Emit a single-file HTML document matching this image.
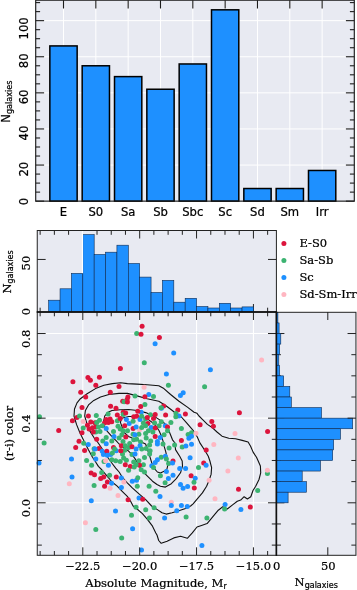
<!DOCTYPE html>
<html><head><meta charset="utf-8"><title>Galaxy morphology figure</title>
<style>html,body{margin:0;padding:0;background:#fff}svg{display:block}text{stroke:#000;stroke-width:.22px}</style></head>
<body>
<svg width="357" height="590" viewBox="0 0 357 590">
<rect width="357" height="590" fill="#fff"/>
<rect x="35.7" y="0.2" width="318.6" height="200.95" fill="#e8eaf2" />
<line x1="35.7" y1="165.05" x2="354.3" y2="165.05" stroke="#fff" stroke-width="1" />
<line x1="35.7" y1="128.95" x2="354.3" y2="128.95" stroke="#fff" stroke-width="1" />
<line x1="35.7" y1="92.85" x2="354.3" y2="92.85" stroke="#fff" stroke-width="1" />
<line x1="35.7" y1="56.75" x2="354.3" y2="56.75" stroke="#fff" stroke-width="1" />
<line x1="35.7" y1="20.65" x2="354.3" y2="20.65" stroke="#fff" stroke-width="1" />
<line x1="63.5" y1="0.2" x2="63.5" y2="201.15" stroke="#fff" stroke-width="1" />
<line x1="95.83" y1="0.2" x2="95.83" y2="201.15" stroke="#fff" stroke-width="1" />
<line x1="128.16" y1="0.2" x2="128.16" y2="201.15" stroke="#fff" stroke-width="1" />
<line x1="160.49" y1="0.2" x2="160.49" y2="201.15" stroke="#fff" stroke-width="1" />
<line x1="192.82" y1="0.2" x2="192.82" y2="201.15" stroke="#fff" stroke-width="1" />
<line x1="225.15" y1="0.2" x2="225.15" y2="201.15" stroke="#fff" stroke-width="1" />
<line x1="257.48" y1="0.2" x2="257.48" y2="201.15" stroke="#fff" stroke-width="1" />
<line x1="289.81" y1="0.2" x2="289.81" y2="201.15" stroke="#fff" stroke-width="1" />
<line x1="322.14" y1="0.2" x2="322.14" y2="201.15" stroke="#fff" stroke-width="1" />
<rect x="49.85" y="45.92" width="27.3" height="155.23" fill="#1e90ff" stroke="#000" stroke-width="1.5" />
<rect x="82.18" y="65.78" width="27.3" height="135.38" fill="#1e90ff" stroke="#000" stroke-width="1.5" />
<rect x="114.51" y="76.61" width="27.3" height="124.55" fill="#1e90ff" stroke="#000" stroke-width="1.5" />
<rect x="146.84" y="89.24" width="27.3" height="111.91" fill="#1e90ff" stroke="#000" stroke-width="1.5" />
<rect x="179.17" y="63.97" width="27.3" height="137.18" fill="#1e90ff" stroke="#000" stroke-width="1.5" />
<rect x="211.5" y="9.82" width="27.3" height="191.33" fill="#1e90ff" stroke="#000" stroke-width="1.5" />
<rect x="243.83" y="188.52" width="27.3" height="12.63" fill="#1e90ff" stroke="#000" stroke-width="1.5" />
<rect x="276.16" y="188.52" width="27.3" height="12.63" fill="#1e90ff" stroke="#000" stroke-width="1.5" />
<rect x="308.49" y="170.47" width="27.3" height="30.69" fill="#1e90ff" stroke="#000" stroke-width="1.5" />
<line x1="63.5" y1="0.2" x2="63.5" y2="8.5" stroke="#1c1c1c" stroke-width="1.1" />
<line x1="95.83" y1="0.2" x2="95.83" y2="8.5" stroke="#1c1c1c" stroke-width="1.1" />
<line x1="128.16" y1="0.2" x2="128.16" y2="8.5" stroke="#1c1c1c" stroke-width="1.1" />
<line x1="160.49" y1="0.2" x2="160.49" y2="8.5" stroke="#1c1c1c" stroke-width="1.1" />
<line x1="192.82" y1="0.2" x2="192.82" y2="8.5" stroke="#1c1c1c" stroke-width="1.1" />
<line x1="225.15" y1="0.2" x2="225.15" y2="8.5" stroke="#1c1c1c" stroke-width="1.1" />
<line x1="257.48" y1="0.2" x2="257.48" y2="8.5" stroke="#1c1c1c" stroke-width="1.1" />
<line x1="289.81" y1="0.2" x2="289.81" y2="8.5" stroke="#1c1c1c" stroke-width="1.1" />
<line x1="322.14" y1="0.2" x2="322.14" y2="8.5" stroke="#1c1c1c" stroke-width="1.1" />
<line x1="35.7" y1="201.15" x2="44.1" y2="201.15" stroke="#1c1c1c" stroke-width="1.1" />
<line x1="354.3" y1="201.15" x2="345.9" y2="201.15" stroke="#1c1c1c" stroke-width="1.1" />
<line x1="35.7" y1="192.12" x2="40.1" y2="192.12" stroke="#1c1c1c" stroke-width="1.1" />
<line x1="354.3" y1="192.12" x2="349.9" y2="192.12" stroke="#1c1c1c" stroke-width="1.1" />
<line x1="35.7" y1="183.1" x2="40.1" y2="183.1" stroke="#1c1c1c" stroke-width="1.1" />
<line x1="354.3" y1="183.1" x2="349.9" y2="183.1" stroke="#1c1c1c" stroke-width="1.1" />
<line x1="35.7" y1="174.08" x2="40.1" y2="174.08" stroke="#1c1c1c" stroke-width="1.1" />
<line x1="354.3" y1="174.08" x2="349.9" y2="174.08" stroke="#1c1c1c" stroke-width="1.1" />
<line x1="35.7" y1="165.05" x2="44.1" y2="165.05" stroke="#1c1c1c" stroke-width="1.1" />
<line x1="354.3" y1="165.05" x2="345.9" y2="165.05" stroke="#1c1c1c" stroke-width="1.1" />
<line x1="35.7" y1="156.03" x2="40.1" y2="156.03" stroke="#1c1c1c" stroke-width="1.1" />
<line x1="354.3" y1="156.03" x2="349.9" y2="156.03" stroke="#1c1c1c" stroke-width="1.1" />
<line x1="35.7" y1="147" x2="40.1" y2="147" stroke="#1c1c1c" stroke-width="1.1" />
<line x1="354.3" y1="147" x2="349.9" y2="147" stroke="#1c1c1c" stroke-width="1.1" />
<line x1="35.7" y1="137.98" x2="40.1" y2="137.98" stroke="#1c1c1c" stroke-width="1.1" />
<line x1="354.3" y1="137.98" x2="349.9" y2="137.98" stroke="#1c1c1c" stroke-width="1.1" />
<line x1="35.7" y1="128.95" x2="44.1" y2="128.95" stroke="#1c1c1c" stroke-width="1.1" />
<line x1="354.3" y1="128.95" x2="345.9" y2="128.95" stroke="#1c1c1c" stroke-width="1.1" />
<line x1="35.7" y1="119.93" x2="40.1" y2="119.93" stroke="#1c1c1c" stroke-width="1.1" />
<line x1="354.3" y1="119.93" x2="349.9" y2="119.93" stroke="#1c1c1c" stroke-width="1.1" />
<line x1="35.7" y1="110.9" x2="40.1" y2="110.9" stroke="#1c1c1c" stroke-width="1.1" />
<line x1="354.3" y1="110.9" x2="349.9" y2="110.9" stroke="#1c1c1c" stroke-width="1.1" />
<line x1="35.7" y1="101.88" x2="40.1" y2="101.88" stroke="#1c1c1c" stroke-width="1.1" />
<line x1="354.3" y1="101.88" x2="349.9" y2="101.88" stroke="#1c1c1c" stroke-width="1.1" />
<line x1="35.7" y1="92.85" x2="44.1" y2="92.85" stroke="#1c1c1c" stroke-width="1.1" />
<line x1="354.3" y1="92.85" x2="345.9" y2="92.85" stroke="#1c1c1c" stroke-width="1.1" />
<line x1="35.7" y1="83.83" x2="40.1" y2="83.83" stroke="#1c1c1c" stroke-width="1.1" />
<line x1="354.3" y1="83.83" x2="349.9" y2="83.83" stroke="#1c1c1c" stroke-width="1.1" />
<line x1="35.7" y1="74.8" x2="40.1" y2="74.8" stroke="#1c1c1c" stroke-width="1.1" />
<line x1="354.3" y1="74.8" x2="349.9" y2="74.8" stroke="#1c1c1c" stroke-width="1.1" />
<line x1="35.7" y1="65.78" x2="40.1" y2="65.78" stroke="#1c1c1c" stroke-width="1.1" />
<line x1="354.3" y1="65.78" x2="349.9" y2="65.78" stroke="#1c1c1c" stroke-width="1.1" />
<line x1="35.7" y1="56.75" x2="44.1" y2="56.75" stroke="#1c1c1c" stroke-width="1.1" />
<line x1="354.3" y1="56.75" x2="345.9" y2="56.75" stroke="#1c1c1c" stroke-width="1.1" />
<line x1="35.7" y1="47.73" x2="40.1" y2="47.73" stroke="#1c1c1c" stroke-width="1.1" />
<line x1="354.3" y1="47.73" x2="349.9" y2="47.73" stroke="#1c1c1c" stroke-width="1.1" />
<line x1="35.7" y1="38.7" x2="40.1" y2="38.7" stroke="#1c1c1c" stroke-width="1.1" />
<line x1="354.3" y1="38.7" x2="349.9" y2="38.7" stroke="#1c1c1c" stroke-width="1.1" />
<line x1="35.7" y1="29.68" x2="40.1" y2="29.68" stroke="#1c1c1c" stroke-width="1.1" />
<line x1="354.3" y1="29.68" x2="349.9" y2="29.68" stroke="#1c1c1c" stroke-width="1.1" />
<line x1="35.7" y1="20.65" x2="44.1" y2="20.65" stroke="#1c1c1c" stroke-width="1.1" />
<line x1="354.3" y1="20.65" x2="345.9" y2="20.65" stroke="#1c1c1c" stroke-width="1.1" />
<line x1="35.7" y1="11.62" x2="40.1" y2="11.62" stroke="#1c1c1c" stroke-width="1.1" />
<line x1="354.3" y1="11.62" x2="349.9" y2="11.62" stroke="#1c1c1c" stroke-width="1.1" />
<line x1="35.7" y1="2.6" x2="40.1" y2="2.6" stroke="#1c1c1c" stroke-width="1.1" />
<line x1="354.3" y1="2.6" x2="349.9" y2="2.6" stroke="#1c1c1c" stroke-width="1.1" />
<rect x="35.7" y="0.2" width="318.6" height="200.95" fill="none" stroke="#1c1c1c" stroke-width="1.15" />
<text x="63.5" y="215.5" font-family='"DejaVu Sans","Liberation Sans",sans-serif' font-size="11.6" text-anchor="middle" fill="#000">E</text>
<text x="95.83" y="215.5" font-family='"DejaVu Sans","Liberation Sans",sans-serif' font-size="11.6" text-anchor="middle" fill="#000">S0</text>
<text x="128.16" y="215.5" font-family='"DejaVu Sans","Liberation Sans",sans-serif' font-size="11.6" text-anchor="middle" fill="#000">Sa</text>
<text x="160.49" y="215.5" font-family='"DejaVu Sans","Liberation Sans",sans-serif' font-size="11.6" text-anchor="middle" fill="#000">Sb</text>
<text x="192.82" y="215.5" font-family='"DejaVu Sans","Liberation Sans",sans-serif' font-size="11.6" text-anchor="middle" fill="#000">Sbc</text>
<text x="225.15" y="215.5" font-family='"DejaVu Sans","Liberation Sans",sans-serif' font-size="11.6" text-anchor="middle" fill="#000">Sc</text>
<text x="257.48" y="215.5" font-family='"DejaVu Sans","Liberation Sans",sans-serif' font-size="11.6" text-anchor="middle" fill="#000">Sd</text>
<text x="289.81" y="215.5" font-family='"DejaVu Sans","Liberation Sans",sans-serif' font-size="11.6" text-anchor="middle" fill="#000">Sm</text>
<text x="322.14" y="215.5" font-family='"DejaVu Sans","Liberation Sans",sans-serif' font-size="11.6" text-anchor="middle" fill="#000">Irr</text>
<text transform="translate(27.9 197.85) rotate(-90)" font-family='"DejaVu Sans","Liberation Sans",sans-serif' font-size="11.6" text-anchor="end" fill="#000">0</text>
<text transform="translate(27.9 161.75) rotate(-90)" font-family='"DejaVu Sans","Liberation Sans",sans-serif' font-size="11.6" text-anchor="end" fill="#000">20</text>
<text transform="translate(27.9 125.65) rotate(-90)" font-family='"DejaVu Sans","Liberation Sans",sans-serif' font-size="11.6" text-anchor="end" fill="#000">40</text>
<text transform="translate(27.9 89.55) rotate(-90)" font-family='"DejaVu Sans","Liberation Sans",sans-serif' font-size="11.6" text-anchor="end" fill="#000">60</text>
<text transform="translate(27.9 53.45) rotate(-90)" font-family='"DejaVu Sans","Liberation Sans",sans-serif' font-size="11.6" text-anchor="end" fill="#000">80</text>
<text transform="translate(27.9 17.35) rotate(-90)" font-family='"DejaVu Sans","Liberation Sans",sans-serif' font-size="11.6" text-anchor="end" fill="#000">100</text>
<text transform="translate(10 122.8) rotate(-90)" font-family='"DejaVu Sans","Liberation Sans",sans-serif' font-size="11.6" fill="#000">N<tspan font-size="8.1" dy="2.3">galaxies</tspan></text>
<rect x="37.25" y="230.5" width="239.15" height="81.5" fill="#e8eaf2" />
<line x1="253.43" y1="304" x2="253.43" y2="312" stroke="#222" stroke-width="1.0" />
<rect x="48.67" y="300.2" width="11.38" height="11.8" fill="#1e90ff" stroke="#0d2a52" stroke-width="0.6" />
<rect x="60.05" y="288.8" width="11.38" height="23.2" fill="#1e90ff" stroke="#0d2a52" stroke-width="0.6" />
<rect x="71.42" y="273.4" width="11.38" height="38.6" fill="#1e90ff" stroke="#0d2a52" stroke-width="0.6" />
<rect x="82.8" y="234.6" width="11.38" height="77.4" fill="#1e90ff" stroke="#0d2a52" stroke-width="0.6" />
<rect x="94.17" y="254.5" width="11.38" height="57.5" fill="#1e90ff" stroke="#0d2a52" stroke-width="0.6" />
<rect x="105.55" y="252.2" width="11.38" height="59.8" fill="#1e90ff" stroke="#0d2a52" stroke-width="0.6" />
<rect x="116.92" y="245.2" width="11.38" height="66.8" fill="#1e90ff" stroke="#0d2a52" stroke-width="0.6" />
<rect x="128.3" y="263.5" width="11.38" height="48.5" fill="#1e90ff" stroke="#0d2a52" stroke-width="0.6" />
<rect x="139.68" y="277.1" width="11.38" height="34.9" fill="#1e90ff" stroke="#0d2a52" stroke-width="0.6" />
<rect x="151.05" y="292.5" width="11.38" height="19.5" fill="#1e90ff" stroke="#0d2a52" stroke-width="0.6" />
<rect x="162.43" y="280.4" width="11.38" height="31.6" fill="#1e90ff" stroke="#0d2a52" stroke-width="0.6" />
<rect x="173.8" y="302.2" width="11.38" height="9.8" fill="#1e90ff" stroke="#0d2a52" stroke-width="0.6" />
<rect x="185.18" y="298.3" width="11.38" height="13.7" fill="#1e90ff" stroke="#0d2a52" stroke-width="0.6" />
<rect x="196.55" y="306.5" width="11.38" height="5.5" fill="#1e90ff" stroke="#0d2a52" stroke-width="0.6" />
<rect x="207.93" y="308" width="11.38" height="4" fill="#1e90ff" stroke="#0d2a52" stroke-width="0.6" />
<rect x="219.3" y="303.3" width="11.38" height="8.7" fill="#1e90ff" stroke="#0d2a52" stroke-width="0.6" />
<rect x="230.68" y="308" width="11.38" height="4" fill="#1e90ff" stroke="#0d2a52" stroke-width="0.6" />
<rect x="242.05" y="306.9" width="11.38" height="5.1" fill="#1e90ff" stroke="#0d2a52" stroke-width="0.6" />
<line x1="82.45" y1="230.5" x2="82.45" y2="273.2" stroke="#fff" stroke-width="1.2" />
<rect x="37.25" y="312" width="239.15" height="243.3" fill="#e8eaf2" />
<line x1="82.8" y1="312" x2="82.8" y2="555.3" stroke="#fff" stroke-width="1.1" />
<line x1="139.68" y1="312" x2="139.68" y2="555.3" stroke="#fff" stroke-width="1.1" />
<line x1="196.55" y1="312" x2="196.55" y2="555.3" stroke="#fff" stroke-width="1.1" />
<line x1="253.43" y1="312" x2="253.43" y2="555.3" stroke="#fff" stroke-width="1.1" />
<line x1="37.25" y1="333.52" x2="276.4" y2="333.52" stroke="#fff" stroke-width="1.1" />
<line x1="37.25" y1="418.16" x2="276.4" y2="418.16" stroke="#fff" stroke-width="1.1" />
<line x1="37.25" y1="502.8" x2="276.4" y2="502.8" stroke="#fff" stroke-width="1.1" />
<path d="M137 384.1 L127.4 383.6 L120.7 382.8 L112.3 383.6 L103.9 385.3 L95.5 388.6 L87.1 393.7 L80.4 398.7 L77 402.9 L74.5 409 L74 416 L76.5 424.4 L79.9 432.8 L84.1 441.2 L88.3 449.6 L92.5 457.2 L95 461 L98.4 466.4 L102 470 L107.1 476.1 L112.1 482 L117.2 486.2 L122.2 491.3 L127.3 496.3 L130.6 501.3 L133.1 506 L136.5 508.5 L142.4 513.6 L147.4 519.4 L152.5 526.2 L155.8 532.9 L157 535 L158.7 540.5 L161.2 543.3 L167.1 541.3 L173.8 537.9 L180.5 536.3 L187.3 538.3 L192.3 532.9 L197 527 L201.5 525.4 L207.1 523.6 L212.7 516.9 L218.3 510.2 L222.8 506.8 L227.3 509 L232.9 504.6 L237.3 501.2 L240.7 500.1 L244.1 496.7 L247.4 499 L250.8 496.7 L253 490.5 L255.7 486.2 L259 479.5 L260.7 472.8 L260.4 466 L258.2 461 L256.5 457.2 L253.1 452.1 L250.6 446.3 L248.1 442 L242.2 440.4 L235.5 438.7 L228.8 438.2 L222 436.2 L217 432 L212.5 427.8 L207.4 424.4 L202.4 419.4 L199 416 L197 413.3 L194.1 412.2 L187.4 407.1 L179 401.3 L170.6 394.5 L163.9 388.6 L158.8 385.8 L147.1 384.8 L137 384.1 Z" fill="none" stroke="#111" stroke-width="1.1" stroke-linejoin="round"/>
<path d="M137 395.9 L127.4 393.4 L119 393.4 L108.9 394.5 L100.5 397 L93.8 400.4 L88.8 404.6 L85.4 410.5 L84.7 416 L86.6 422.7 L89.9 431.1 L94.1 437.8 L97 441.2 L101 447 L105 453 L108.5 458.5 L111.8 463 L115.7 468.1 L119.1 472 L122.2 477 L127.3 482.8 L132.3 487.9 L139 493.8 L145.7 499.7 L151.6 506 L157 509.4 L162 512.7 L166.2 514.1 L172.1 512.7 L178.8 510.7 L185.6 508.5 L190.6 506 L193.1 503.9 L197.3 498.8 L202.4 492.9 L206.6 486.2 L209.1 480.3 L211.1 474.4 L211.6 467.7 L209.9 461 L208.3 456.3 L204.9 450.5 L199.9 442.9 L197.3 437 L193.1 430.3 L186.4 422.7 L180.5 416 L176.5 414 L172.3 410.5 L165.6 405.5 L158.8 401.3 L147.1 398.7 L137 395.9 Z" fill="none" stroke="#111" stroke-width="1.1" stroke-linejoin="round"/>
<path d="M112 410.5 L108.1 412.2 L104.7 416 L103.5 422 L104.5 427 L107.3 431.4 L111.8 436.4 L116.3 440.9 L119.1 444 L123.5 447.5 L128.1 450.7 L132 454.6 L135 458.6 L138.5 464.5 L141.5 470.2 L147.4 476.1 L152.5 481.2 L157 484.5 L160.4 486.2 L165.4 487.1 L171.3 483.7 L176.3 478.6 L180.5 472.8 L182.5 466 L182.2 461 L179.7 456.3 L175.5 449.6 L175 443 L172.5 439.8 L170.3 434.2 L168.1 428.6 L164.7 423.5 L162 421.5 L158.2 418.9 L152.6 415.4 L145.6 412.6 L137.2 410.5 L128.8 409.5 L120.4 409.8 L112 410.5 Z" fill="none" stroke="#111" stroke-width="1.1" stroke-linejoin="round"/>
<path d="M121.8 418.2 L120.4 422.4 L122.5 428 L124.7 433 L128.6 436.4 L132 438.1 L138 440.5 L145.6 444 L147.9 450.7 L150.1 457.4 L151.8 463 L154 468.1 L157.4 472 L160.4 473.1 L164.6 471.1 L166.9 469.2 L168.1 464.2 L166.9 457.4 L165.8 451.8 L164.1 446.2 L163 440.9 L161.3 435.8 L159.1 430.8 L156.5 426.8 L154 423.8 L148.4 419.6 L142.8 417.5 L135.8 416.5 L128.8 416.5 L121.8 418.2 Z" fill="none" stroke="#111" stroke-width="1.1" stroke-linejoin="round"/>
<g>
<circle cx="142.1" cy="326.2" r="2.5" fill="#dc143c"/>
<circle cx="136.7" cy="333.4" r="2.5" fill="#3cb371"/>
<circle cx="141" cy="334.3" r="2.5" fill="#dc143c"/>
<circle cx="159.4" cy="337.4" r="2.5" fill="#dc143c"/>
<circle cx="155.1" cy="343.7" r="2.5" fill="#1e90ff"/>
<circle cx="173.7" cy="352.9" r="2.5" fill="#1e90ff"/>
<circle cx="144.3" cy="362.8" r="2.5" fill="#3cb371"/>
<circle cx="120.4" cy="368.4" r="2.5" fill="#dc143c"/>
<circle cx="261.6" cy="359.9" r="2.5" fill="#ffb6c1"/>
<circle cx="210.4" cy="369.7" r="2.5" fill="#1e90ff"/>
<circle cx="72.9" cy="381.8" r="2.5" fill="#dc143c"/>
<circle cx="58.7" cy="430.4" r="2.5" fill="#dc143c"/>
<circle cx="72.4" cy="420.7" r="2.5" fill="#dc143c"/>
<circle cx="76.9" cy="417.6" r="2.5" fill="#dc143c"/>
<circle cx="204.6" cy="386.7" r="2.5" fill="#3cb371"/>
<circle cx="239.4" cy="412.7" r="2.5" fill="#dc143c"/>
<circle cx="211.8" cy="421.4" r="2.5" fill="#dc143c"/>
<circle cx="200.1" cy="424.8" r="2.5" fill="#dc143c"/>
<circle cx="213.4" cy="426.3" r="2.5" fill="#dc143c"/>
<circle cx="267.6" cy="431.5" r="2.5" fill="#dc143c"/>
<circle cx="87.9" cy="377.4" r="2.5" fill="#dc143c"/>
<circle cx="90.4" cy="380.2" r="2.5" fill="#dc143c"/>
<circle cx="99.4" cy="377.2" r="2.5" fill="#dc143c"/>
<circle cx="95.8" cy="385.3" r="2.5" fill="#dc143c"/>
<circle cx="80.7" cy="392.3" r="2.5" fill="#dc143c"/>
<circle cx="85.7" cy="397.1" r="2.5" fill="#dc143c"/>
<circle cx="119" cy="386.5" r="2.5" fill="#dc143c"/>
<circle cx="110.3" cy="392.3" r="2.5" fill="#dc143c"/>
<circle cx="127.9" cy="397.1" r="2.5" fill="#dc143c"/>
<circle cx="127.1" cy="399.6" r="2.5" fill="#dc143c"/>
<circle cx="135" cy="395.9" r="2.5" fill="#3cb371"/>
<circle cx="122.7" cy="401.3" r="2.5" fill="#dc143c"/>
<circle cx="124.1" cy="401.8" r="2.5" fill="#3cb371"/>
<circle cx="127.4" cy="402.1" r="2.5" fill="#dc143c"/>
<circle cx="82" cy="407.6" r="2.5" fill="#dc143c"/>
<circle cx="110.6" cy="406.3" r="2.5" fill="#dc143c"/>
<circle cx="116" cy="408.3" r="2.5" fill="#dc143c"/>
<circle cx="123.2" cy="412.2" r="2.5" fill="#dc143c"/>
<circle cx="108.1" cy="413.9" r="2.5" fill="#3cb371"/>
<circle cx="96.3" cy="415.5" r="2.5" fill="#3cb371"/>
<circle cx="88.4" cy="416" r="2.5" fill="#dc143c"/>
<circle cx="79.5" cy="416" r="2.5" fill="#3cb371"/>
<circle cx="117.3" cy="415" r="2.5" fill="#dc143c"/>
<circle cx="123.2" cy="414.4" r="2.5" fill="#3cb371"/>
<circle cx="125.7" cy="413" r="2.5" fill="#dc143c"/>
<circle cx="166.4" cy="374" r="2.5" fill="#1e90ff"/>
<circle cx="168.4" cy="385.3" r="2.5" fill="#3cb371"/>
<circle cx="144.1" cy="387.3" r="2.5" fill="#ffb6c1"/>
<circle cx="183.2" cy="392.8" r="2.5" fill="#1e90ff"/>
<circle cx="180.4" cy="395.4" r="2.5" fill="#1e90ff"/>
<circle cx="148.8" cy="394.5" r="2.5" fill="#1e90ff"/>
<circle cx="144.9" cy="396.7" r="2.5" fill="#dc143c"/>
<circle cx="153.5" cy="396.5" r="2.5" fill="#3cb371"/>
<circle cx="144.9" cy="404.6" r="2.5" fill="#3cb371"/>
<circle cx="140.7" cy="406.6" r="2.5" fill="#dc143c"/>
<circle cx="163.6" cy="406" r="2.5" fill="#dc143c"/>
<circle cx="161.4" cy="408.3" r="2.5" fill="#1e90ff"/>
<circle cx="177.8" cy="410" r="2.5" fill="#dc143c"/>
<circle cx="176" cy="413.4" r="2.5" fill="#3cb371"/>
<circle cx="185.4" cy="413.9" r="2.5" fill="#dc143c"/>
<circle cx="141.2" cy="412.2" r="2.5" fill="#1e90ff"/>
<circle cx="137.8" cy="411.3" r="2.5" fill="#dc143c"/>
<circle cx="150.4" cy="414.7" r="2.5" fill="#3cb371"/>
<circle cx="155.2" cy="414.4" r="2.5" fill="#dc143c"/>
<circle cx="165.6" cy="415" r="2.5" fill="#dc143c"/>
<circle cx="179" cy="416" r="2.5" fill="#1e90ff"/>
<circle cx="39.5" cy="416.8" r="2.5" fill="#3cb371"/>
<circle cx="44.1" cy="442.9" r="2.5" fill="#3cb371"/>
<circle cx="83.2" cy="421.4" r="2.5" fill="#ffb6c1"/>
<circle cx="90.8" cy="421.9" r="2.5" fill="#dc143c"/>
<circle cx="95" cy="422.7" r="2.5" fill="#dc143c"/>
<circle cx="87.4" cy="425.2" r="2.5" fill="#dc143c"/>
<circle cx="83.2" cy="428.1" r="2.5" fill="#3cb371"/>
<circle cx="89.1" cy="429.1" r="2.5" fill="#dc143c"/>
<circle cx="92.5" cy="427.8" r="2.5" fill="#dc143c"/>
<circle cx="95.8" cy="426.9" r="2.5" fill="#dc143c"/>
<circle cx="82" cy="432.8" r="2.5" fill="#dc143c"/>
<circle cx="95.8" cy="432" r="2.5" fill="#3cb371"/>
<circle cx="93.3" cy="432" r="2.5" fill="#dc143c"/>
<circle cx="79" cy="441.2" r="2.5" fill="#dc143c"/>
<circle cx="83.7" cy="443.2" r="2.5" fill="#3cb371"/>
<circle cx="88.3" cy="444.6" r="2.5" fill="#1e90ff"/>
<circle cx="75.7" cy="447.6" r="2.5" fill="#dc143c"/>
<circle cx="84.6" cy="450.5" r="2.5" fill="#dc143c"/>
<circle cx="94.1" cy="448.8" r="2.5" fill="#3cb371"/>
<circle cx="93.3" cy="453.8" r="2.5" fill="#3cb371"/>
<circle cx="71.5" cy="458.9" r="2.5" fill="#1e90ff"/>
<circle cx="95.8" cy="458.9" r="2.5" fill="#1e90ff"/>
<circle cx="86.6" cy="460.5" r="2.5" fill="#3cb371"/>
<circle cx="99.5" cy="420.2" r="2.5" fill="#3cb371"/>
<circle cx="96.7" cy="422.4" r="2.5" fill="#3cb371"/>
<circle cx="106.2" cy="419.6" r="2.5" fill="#dc143c"/>
<circle cx="110.1" cy="419" r="2.5" fill="#dc143c"/>
<circle cx="108.4" cy="422.4" r="2.5" fill="#dc143c"/>
<circle cx="111.8" cy="421.8" r="2.5" fill="#dc143c"/>
<circle cx="104.5" cy="423" r="2.5" fill="#dc143c"/>
<circle cx="117.4" cy="420.7" r="2.5" fill="#3cb371"/>
<circle cx="120.2" cy="418.5" r="2.5" fill="#dc143c"/>
<circle cx="126.4" cy="419.6" r="2.5" fill="#1e90ff"/>
<circle cx="129.2" cy="423.5" r="2.5" fill="#1e90ff"/>
<circle cx="133.1" cy="421.3" r="2.5" fill="#3cb371"/>
<circle cx="133.7" cy="416.8" r="2.5" fill="#dc143c"/>
<circle cx="98.4" cy="426.9" r="2.5" fill="#3cb371"/>
<circle cx="102.3" cy="425.8" r="2.5" fill="#3cb371"/>
<circle cx="106.2" cy="428.6" r="2.5" fill="#1e90ff"/>
<circle cx="100" cy="431.4" r="2.5" fill="#3cb371"/>
<circle cx="118" cy="426.3" r="2.5" fill="#3cb371"/>
<circle cx="120.2" cy="429.1" r="2.5" fill="#3cb371"/>
<circle cx="124.7" cy="425.8" r="2.5" fill="#dc143c"/>
<circle cx="123" cy="430.8" r="2.5" fill="#3cb371"/>
<circle cx="127.5" cy="430.8" r="2.5" fill="#3cb371"/>
<circle cx="133.1" cy="428.6" r="2.5" fill="#dc143c"/>
<circle cx="113.5" cy="431.4" r="2.5" fill="#3cb371"/>
<circle cx="114" cy="436.4" r="2.5" fill="#1e90ff"/>
<circle cx="106.2" cy="437.5" r="2.5" fill="#3cb371"/>
<circle cx="102.8" cy="440.9" r="2.5" fill="#3cb371"/>
<circle cx="96.7" cy="439.2" r="2.5" fill="#dc143c"/>
<circle cx="119.1" cy="438.1" r="2.5" fill="#3cb371"/>
<circle cx="121.9" cy="434.7" r="2.5" fill="#3cb371"/>
<circle cx="125.8" cy="437" r="2.5" fill="#dc143c"/>
<circle cx="123" cy="441.5" r="2.5" fill="#3cb371"/>
<circle cx="133.1" cy="434.2" r="2.5" fill="#3cb371"/>
<circle cx="133.7" cy="439.8" r="2.5" fill="#3cb371"/>
<circle cx="111.8" cy="440.9" r="2.5" fill="#3cb371"/>
<circle cx="106.2" cy="443.7" r="2.5" fill="#1e90ff"/>
<circle cx="129.7" cy="443.4" r="2.5" fill="#3cb371"/>
<circle cx="136.7" cy="416.2" r="2.5" fill="#dc143c"/>
<circle cx="140" cy="419.6" r="2.5" fill="#1e90ff"/>
<circle cx="141.7" cy="416.2" r="2.5" fill="#3cb371"/>
<circle cx="145.6" cy="419" r="2.5" fill="#3cb371"/>
<circle cx="147.3" cy="417.4" r="2.5" fill="#dc143c"/>
<circle cx="153.5" cy="418.5" r="2.5" fill="#dc143c"/>
<circle cx="143.4" cy="423" r="2.5" fill="#3cb371"/>
<circle cx="147.9" cy="423.5" r="2.5" fill="#dc143c"/>
<circle cx="145.6" cy="425.8" r="2.5" fill="#3cb371"/>
<circle cx="154.6" cy="423" r="2.5" fill="#3cb371"/>
<circle cx="161.3" cy="421.8" r="2.5" fill="#3cb371"/>
<circle cx="170.9" cy="422.4" r="2.5" fill="#3cb371"/>
<circle cx="165.3" cy="425.8" r="2.5" fill="#1e90ff"/>
<circle cx="167.5" cy="426.9" r="2.5" fill="#dc143c"/>
<circle cx="159.1" cy="425.8" r="2.5" fill="#3cb371"/>
<circle cx="151.2" cy="427.4" r="2.5" fill="#1e90ff"/>
<circle cx="155.2" cy="428" r="2.5" fill="#dc143c"/>
<circle cx="139.5" cy="429.7" r="2.5" fill="#ffb6c1"/>
<circle cx="136.1" cy="426.9" r="2.5" fill="#1e90ff"/>
<circle cx="141.7" cy="427.4" r="2.5" fill="#3cb371"/>
<circle cx="148.4" cy="430.8" r="2.5" fill="#3cb371"/>
<circle cx="145.6" cy="433.6" r="2.5" fill="#3cb371"/>
<circle cx="138.9" cy="434.2" r="2.5" fill="#3cb371"/>
<circle cx="135" cy="434.7" r="2.5" fill="#1e90ff"/>
<circle cx="152.9" cy="431.9" r="2.5" fill="#3cb371"/>
<circle cx="167.5" cy="430.8" r="2.5" fill="#3cb371"/>
<circle cx="164.1" cy="434.7" r="2.5" fill="#3cb371"/>
<circle cx="146.2" cy="438.1" r="2.5" fill="#3cb371"/>
<circle cx="155.2" cy="436.4" r="2.5" fill="#dc143c"/>
<circle cx="160.2" cy="437.5" r="2.5" fill="#1e90ff"/>
<circle cx="150.7" cy="440.9" r="2.5" fill="#3cb371"/>
<circle cx="157.4" cy="441.5" r="2.5" fill="#1e90ff"/>
<circle cx="136.7" cy="439.2" r="2.5" fill="#3cb371"/>
<circle cx="140.6" cy="442" r="2.5" fill="#3cb371"/>
<circle cx="163" cy="444" r="2.5" fill="#3cb371"/>
<circle cx="161" cy="407.7" r="2.5" fill="#3cb371"/>
<circle cx="175.8" cy="416.8" r="2.5" fill="#3cb371"/>
<circle cx="181.4" cy="428.6" r="2.5" fill="#3cb371"/>
<circle cx="188.1" cy="434.5" r="2.5" fill="#3cb371"/>
<circle cx="191.5" cy="432.8" r="2.5" fill="#3cb371"/>
<circle cx="191.5" cy="436.2" r="2.5" fill="#1e90ff"/>
<circle cx="188.9" cy="438.2" r="2.5" fill="#1e90ff"/>
<circle cx="196" cy="433.3" r="2.5" fill="#ffb6c1"/>
<circle cx="181.4" cy="440.4" r="2.5" fill="#dc143c"/>
<circle cx="174.6" cy="444.9" r="2.5" fill="#3cb371"/>
<circle cx="169.1" cy="447.9" r="2.5" fill="#3cb371"/>
<circle cx="182.2" cy="447.1" r="2.5" fill="#3cb371"/>
<circle cx="185.9" cy="445.9" r="2.5" fill="#1e90ff"/>
<circle cx="191.5" cy="444.2" r="2.5" fill="#1e90ff"/>
<circle cx="213.8" cy="444.6" r="2.5" fill="#ffb6c1"/>
<circle cx="206.2" cy="449.9" r="2.5" fill="#dc143c"/>
<circle cx="190.1" cy="457.7" r="2.5" fill="#1e90ff"/>
<circle cx="161.2" cy="457.2" r="2.5" fill="#3cb371"/>
<circle cx="165.4" cy="456.3" r="2.5" fill="#1e90ff"/>
<circle cx="173" cy="461" r="2.5" fill="#dc143c"/>
<circle cx="235" cy="433.6" r="2.5" fill="#ffb6c1"/>
<circle cx="238.3" cy="458" r="2.5" fill="#ffb6c1"/>
<circle cx="39" cy="463" r="2.5" fill="#1e90ff"/>
<circle cx="91.6" cy="465.2" r="2.5" fill="#3cb371"/>
<circle cx="91.1" cy="473.1" r="2.5" fill="#dc143c"/>
<circle cx="94.5" cy="474.8" r="2.5" fill="#dc143c"/>
<circle cx="72" cy="477" r="2.5" fill="#1e90ff"/>
<circle cx="69.3" cy="483.7" r="2.5" fill="#ffb6c1"/>
<circle cx="94.1" cy="485.4" r="2.5" fill="#3cb371"/>
<circle cx="91.3" cy="500.8" r="2.5" fill="#1e90ff"/>
<circle cx="98.9" cy="448.5" r="2.5" fill="#dc143c"/>
<circle cx="95" cy="449" r="2.5" fill="#1e90ff"/>
<circle cx="102.3" cy="451.3" r="2.5" fill="#1e90ff"/>
<circle cx="106.8" cy="451.3" r="2.5" fill="#dc143c"/>
<circle cx="103.4" cy="454.6" r="2.5" fill="#1e90ff"/>
<circle cx="107.3" cy="455.2" r="2.5" fill="#1e90ff"/>
<circle cx="110.7" cy="454.6" r="2.5" fill="#1e90ff"/>
<circle cx="116.3" cy="450.7" r="2.5" fill="#1e90ff"/>
<circle cx="113.5" cy="447.4" r="2.5" fill="#dc143c"/>
<circle cx="114.6" cy="449" r="2.5" fill="#3cb371"/>
<circle cx="112.4" cy="453" r="2.5" fill="#3cb371"/>
<circle cx="121.3" cy="445.7" r="2.5" fill="#dc143c"/>
<circle cx="125.3" cy="445.7" r="2.5" fill="#3cb371"/>
<circle cx="128.6" cy="447.4" r="2.5" fill="#3cb371"/>
<circle cx="132" cy="446.8" r="2.5" fill="#dc143c"/>
<circle cx="124.7" cy="450.2" r="2.5" fill="#3cb371"/>
<circle cx="122.5" cy="454.1" r="2.5" fill="#3cb371"/>
<circle cx="120.8" cy="450.7" r="2.5" fill="#dc143c"/>
<circle cx="132" cy="454.6" r="2.5" fill="#3cb371"/>
<circle cx="104" cy="461.4" r="2.5" fill="#3cb371"/>
<circle cx="105.6" cy="460.8" r="2.5" fill="#ffb6c1"/>
<circle cx="108.4" cy="465.3" r="2.5" fill="#1e90ff"/>
<circle cx="111.8" cy="459.7" r="2.5" fill="#3cb371"/>
<circle cx="115.7" cy="460.8" r="2.5" fill="#3cb371"/>
<circle cx="120.2" cy="461.4" r="2.5" fill="#3cb371"/>
<circle cx="123.6" cy="458" r="2.5" fill="#3cb371"/>
<circle cx="126.4" cy="460.2" r="2.5" fill="#3cb371"/>
<circle cx="125.3" cy="464.7" r="2.5" fill="#dc143c"/>
<circle cx="130.3" cy="466.4" r="2.5" fill="#dc143c"/>
<circle cx="133.7" cy="461.9" r="2.5" fill="#3cb371"/>
<circle cx="134.2" cy="467" r="2.5" fill="#3cb371"/>
<circle cx="128.6" cy="470.3" r="2.5" fill="#3cb371"/>
<circle cx="101.7" cy="472.6" r="2.5" fill="#3cb371"/>
<circle cx="140" cy="445.7" r="2.5" fill="#1e90ff"/>
<circle cx="136.1" cy="449" r="2.5" fill="#1e90ff"/>
<circle cx="135" cy="454.1" r="2.5" fill="#1e90ff"/>
<circle cx="141.7" cy="449" r="2.5" fill="#3cb371"/>
<circle cx="146.2" cy="448.5" r="2.5" fill="#3cb371"/>
<circle cx="150.1" cy="450.7" r="2.5" fill="#3cb371"/>
<circle cx="149.6" cy="454.1" r="2.5" fill="#3cb371"/>
<circle cx="149.6" cy="445.1" r="2.5" fill="#3cb371"/>
<circle cx="157.4" cy="444" r="2.5" fill="#1e90ff"/>
<circle cx="144.5" cy="457.4" r="2.5" fill="#3cb371"/>
<circle cx="138.9" cy="460.8" r="2.5" fill="#3cb371"/>
<circle cx="143.4" cy="464.7" r="2.5" fill="#3cb371"/>
<circle cx="139.5" cy="465.3" r="2.5" fill="#dc143c"/>
<circle cx="136.1" cy="464.7" r="2.5" fill="#3cb371"/>
<circle cx="141.2" cy="469.8" r="2.5" fill="#3cb371"/>
<circle cx="144.5" cy="472" r="2.5" fill="#3cb371"/>
<circle cx="157.4" cy="459.7" r="2.5" fill="#1e90ff"/>
<circle cx="155.2" cy="462.5" r="2.5" fill="#1e90ff"/>
<circle cx="151.8" cy="465.8" r="2.5" fill="#1e90ff"/>
<circle cx="153.5" cy="467.5" r="2.5" fill="#3cb371"/>
<circle cx="166.4" cy="459.1" r="2.5" fill="#3cb371"/>
<circle cx="168.6" cy="463.6" r="2.5" fill="#3cb371"/>
<circle cx="172.5" cy="463" r="2.5" fill="#1e90ff"/>
<circle cx="166.4" cy="471.5" r="2.5" fill="#1e90ff"/>
<circle cx="109.6" cy="475.3" r="2.5" fill="#3cb371"/>
<circle cx="103.7" cy="477" r="2.5" fill="#dc143c"/>
<circle cx="100.7" cy="478.6" r="2.5" fill="#dc143c"/>
<circle cx="116.3" cy="477" r="2.5" fill="#dc143c"/>
<circle cx="121.4" cy="478.1" r="2.5" fill="#1e90ff"/>
<circle cx="107.4" cy="482" r="2.5" fill="#dc143c"/>
<circle cx="111.6" cy="483.2" r="2.5" fill="#1e90ff"/>
<circle cx="123.9" cy="482" r="2.5" fill="#ffb6c1"/>
<circle cx="132.3" cy="481.2" r="2.5" fill="#1e90ff"/>
<circle cx="136.5" cy="480.3" r="2.5" fill="#1e90ff"/>
<circle cx="137.8" cy="477.8" r="2.5" fill="#3cb371"/>
<circle cx="104.6" cy="486.2" r="2.5" fill="#dc143c"/>
<circle cx="110.1" cy="488.2" r="2.5" fill="#ffb6c1"/>
<circle cx="121.4" cy="487.6" r="2.5" fill="#1e90ff"/>
<circle cx="137.3" cy="486.2" r="2.5" fill="#3cb371"/>
<circle cx="149.1" cy="486.2" r="2.5" fill="#3cb371"/>
<circle cx="155.8" cy="491.3" r="2.5" fill="#3cb371"/>
<circle cx="118" cy="495.5" r="2.5" fill="#ffb6c1"/>
<circle cx="128.1" cy="499.7" r="2.5" fill="#dc143c"/>
<circle cx="139" cy="498" r="2.5" fill="#1e90ff"/>
<circle cx="142.7" cy="499.3" r="2.5" fill="#dc143c"/>
<circle cx="179.7" cy="468.6" r="2.5" fill="#1e90ff"/>
<circle cx="185.6" cy="468.6" r="2.5" fill="#1e90ff"/>
<circle cx="160.4" cy="475.8" r="2.5" fill="#3cb371"/>
<circle cx="173" cy="475.3" r="2.5" fill="#1e90ff"/>
<circle cx="168.4" cy="478.6" r="2.5" fill="#1e90ff"/>
<circle cx="165.1" cy="482.8" r="2.5" fill="#3cb371"/>
<circle cx="203.7" cy="463" r="2.5" fill="#dc143c"/>
<circle cx="206.1" cy="465.2" r="2.5" fill="#1e90ff"/>
<circle cx="198.5" cy="467.4" r="2.5" fill="#3cb371"/>
<circle cx="191.1" cy="475.8" r="2.5" fill="#dc143c"/>
<circle cx="195.2" cy="478.3" r="2.5" fill="#1e90ff"/>
<circle cx="194" cy="482.3" r="2.5" fill="#3cb371"/>
<circle cx="209.1" cy="480.3" r="2.5" fill="#ffb6c1"/>
<circle cx="180.5" cy="484.5" r="2.5" fill="#1e90ff"/>
<circle cx="183.1" cy="488.2" r="2.5" fill="#1e90ff"/>
<circle cx="187.6" cy="486.5" r="2.5" fill="#1e90ff"/>
<circle cx="194.3" cy="487.9" r="2.5" fill="#dc143c"/>
<circle cx="160" cy="496.6" r="2.5" fill="#1e90ff"/>
<circle cx="171.3" cy="502.2" r="2.5" fill="#ffb6c1"/>
<circle cx="215" cy="498.8" r="2.5" fill="#ffb6c1"/>
<circle cx="171.3" cy="505.5" r="2.5" fill="#1e90ff"/>
<circle cx="181.4" cy="505.5" r="2.5" fill="#1e90ff"/>
<circle cx="187.3" cy="506.5" r="2.5" fill="#1e90ff"/>
<circle cx="227.9" cy="471.1" r="2.5" fill="#ffb6c1"/>
<circle cx="267.4" cy="473.6" r="2.5" fill="#3cb371"/>
<circle cx="267.4" cy="470.2" r="2.5" fill="#ffb6c1"/>
<circle cx="238.5" cy="489.2" r="2.5" fill="#dc143c"/>
<circle cx="257.7" cy="490.4" r="2.5" fill="#3cb371"/>
<circle cx="225.1" cy="504.4" r="2.5" fill="#1e90ff"/>
<circle cx="250.3" cy="507" r="2.5" fill="#dc143c"/>
<circle cx="85.4" cy="522.8" r="2.5" fill="#ffb6c1"/>
<circle cx="95.8" cy="529.5" r="2.5" fill="#3cb371"/>
<circle cx="115.5" cy="511" r="2.5" fill="#1e90ff"/>
<circle cx="136" cy="507.3" r="2.5" fill="#3cb371"/>
<circle cx="131.5" cy="515.2" r="2.5" fill="#3cb371"/>
<circle cx="145.7" cy="509.7" r="2.5" fill="#3cb371"/>
<circle cx="154.1" cy="507.7" r="2.5" fill="#3cb371"/>
<circle cx="149.4" cy="518.1" r="2.5" fill="#3cb371"/>
<circle cx="132.6" cy="528.7" r="2.5" fill="#1e90ff"/>
<circle cx="121.7" cy="537.9" r="2.5" fill="#3cb371"/>
<circle cx="141.5" cy="550" r="2.5" fill="#1e90ff"/>
<circle cx="176.8" cy="510.7" r="2.5" fill="#1e90ff"/>
<circle cx="164.6" cy="518.1" r="2.5" fill="#1e90ff"/>
<circle cx="186.1" cy="516.9" r="2.5" fill="#3cb371"/>
<circle cx="206.9" cy="518.1" r="2.5" fill="#3cb371"/>
<circle cx="201.9" cy="545.5" r="2.5" fill="#1e90ff"/>
<circle cx="224.6" cy="509" r="2.5" fill="#3cb371"/>
<circle cx="240.9" cy="509.4" r="2.5" fill="#1e90ff"/>
</g>
<defs><clipPath id="sc"><rect x="37.25" y="312.0" width="239.14999999999998" height="243.29999999999995"/></clipPath></defs>
<rect x="276.4" y="312.3" width="79.55" height="243" fill="#e8eaf2" />
<line x1="276.4" y1="545.12" x2="280.9" y2="545.12" stroke="#222" stroke-width="1.0" />
<line x1="276.4" y1="523.96" x2="280.9" y2="523.96" stroke="#222" stroke-width="1.0" />
<line x1="276.4" y1="502.8" x2="284.4" y2="502.8" stroke="#222" stroke-width="1.0" />
<line x1="276.4" y1="481.64" x2="280.9" y2="481.64" stroke="#222" stroke-width="1.0" />
<line x1="276.4" y1="460.48" x2="280.9" y2="460.48" stroke="#222" stroke-width="1.0" />
<line x1="276.4" y1="439.32" x2="280.9" y2="439.32" stroke="#222" stroke-width="1.0" />
<line x1="276.4" y1="418.16" x2="284.4" y2="418.16" stroke="#222" stroke-width="1.0" />
<line x1="276.4" y1="397" x2="280.9" y2="397" stroke="#222" stroke-width="1.0" />
<line x1="276.4" y1="375.84" x2="280.9" y2="375.84" stroke="#222" stroke-width="1.0" />
<line x1="276.4" y1="354.68" x2="280.9" y2="354.68" stroke="#222" stroke-width="1.0" />
<line x1="276.4" y1="333.52" x2="284.4" y2="333.52" stroke="#222" stroke-width="1.0" />
<rect x="276.4" y="312.36" width="1.5" height="10.58" fill="#1e90ff" stroke="#0d2a52" stroke-width="0.6" />
<rect x="276.4" y="322.94" width="2.7" height="10.58" fill="#1e90ff" stroke="#0d2a52" stroke-width="0.6" />
<rect x="276.4" y="333.52" width="4.4" height="10.58" fill="#1e90ff" stroke="#0d2a52" stroke-width="0.6" />
<rect x="276.4" y="344.1" width="3.2" height="10.58" fill="#1e90ff" stroke="#0d2a52" stroke-width="0.6" />
<rect x="276.4" y="354.68" width="2.4" height="10.58" fill="#1e90ff" stroke="#0d2a52" stroke-width="0.6" />
<rect x="276.4" y="365.26" width="3.2" height="10.58" fill="#1e90ff" stroke="#0d2a52" stroke-width="0.6" />
<rect x="276.4" y="375.84" width="7.3" height="10.58" fill="#1e90ff" stroke="#0d2a52" stroke-width="0.6" />
<rect x="276.4" y="386.42" width="13.4" height="10.58" fill="#1e90ff" stroke="#0d2a52" stroke-width="0.6" />
<rect x="276.4" y="397" width="14.9" height="10.58" fill="#1e90ff" stroke="#0d2a52" stroke-width="0.6" />
<rect x="276.4" y="407.58" width="45.1" height="10.58" fill="#1e90ff" stroke="#0d2a52" stroke-width="0.6" />
<rect x="276.4" y="418.16" width="76.3" height="10.58" fill="#1e90ff" stroke="#0d2a52" stroke-width="0.6" />
<rect x="276.4" y="428.74" width="64.1" height="10.58" fill="#1e90ff" stroke="#0d2a52" stroke-width="0.6" />
<rect x="276.4" y="439.32" width="57.3" height="10.58" fill="#1e90ff" stroke="#0d2a52" stroke-width="0.6" />
<rect x="276.4" y="449.9" width="56.3" height="10.58" fill="#1e90ff" stroke="#0d2a52" stroke-width="0.6" />
<rect x="276.4" y="460.48" width="44.1" height="10.58" fill="#1e90ff" stroke="#0d2a52" stroke-width="0.6" />
<rect x="276.4" y="471.06" width="25.8" height="10.58" fill="#1e90ff" stroke="#0d2a52" stroke-width="0.6" />
<rect x="276.4" y="481.64" width="30" height="10.58" fill="#1e90ff" stroke="#0d2a52" stroke-width="0.6" />
<rect x="276.4" y="492.22" width="11.7" height="10.58" fill="#1e90ff" stroke="#0d2a52" stroke-width="0.6" />
<line x1="40.14" y1="230.5" x2="40.14" y2="234.8" stroke="#222" stroke-width="1.0" />
<line x1="40.14" y1="312" x2="40.14" y2="316.3" stroke="#222" stroke-width="1.0" />
<line x1="40.14" y1="555.3" x2="40.14" y2="551" stroke="#222" stroke-width="1.0" />
<line x1="54.36" y1="230.5" x2="54.36" y2="234.8" stroke="#222" stroke-width="1.0" />
<line x1="54.36" y1="312" x2="54.36" y2="316.3" stroke="#222" stroke-width="1.0" />
<line x1="54.36" y1="555.3" x2="54.36" y2="551" stroke="#222" stroke-width="1.0" />
<line x1="68.58" y1="230.5" x2="68.58" y2="234.8" stroke="#222" stroke-width="1.0" />
<line x1="68.58" y1="312" x2="68.58" y2="316.3" stroke="#222" stroke-width="1.0" />
<line x1="68.58" y1="555.3" x2="68.58" y2="551" stroke="#222" stroke-width="1.0" />
<line x1="82.8" y1="312" x2="82.8" y2="320" stroke="#222" stroke-width="1.0" />
<line x1="82.8" y1="555.3" x2="82.8" y2="547.3" stroke="#222" stroke-width="1.0" />
<line x1="97.02" y1="230.5" x2="97.02" y2="234.8" stroke="#222" stroke-width="1.0" />
<line x1="97.02" y1="312" x2="97.02" y2="316.3" stroke="#222" stroke-width="1.0" />
<line x1="97.02" y1="555.3" x2="97.02" y2="551" stroke="#222" stroke-width="1.0" />
<line x1="111.24" y1="230.5" x2="111.24" y2="234.8" stroke="#222" stroke-width="1.0" />
<line x1="111.24" y1="312" x2="111.24" y2="316.3" stroke="#222" stroke-width="1.0" />
<line x1="111.24" y1="555.3" x2="111.24" y2="551" stroke="#222" stroke-width="1.0" />
<line x1="125.46" y1="230.5" x2="125.46" y2="234.8" stroke="#222" stroke-width="1.0" />
<line x1="125.46" y1="312" x2="125.46" y2="316.3" stroke="#222" stroke-width="1.0" />
<line x1="125.46" y1="555.3" x2="125.46" y2="551" stroke="#222" stroke-width="1.0" />
<line x1="139.68" y1="230.5" x2="139.68" y2="238.5" stroke="#222" stroke-width="1.0" />
<line x1="139.68" y1="312" x2="139.68" y2="320" stroke="#222" stroke-width="1.0" />
<line x1="139.68" y1="555.3" x2="139.68" y2="547.3" stroke="#222" stroke-width="1.0" />
<line x1="153.89" y1="230.5" x2="153.89" y2="234.8" stroke="#222" stroke-width="1.0" />
<line x1="153.89" y1="312" x2="153.89" y2="316.3" stroke="#222" stroke-width="1.0" />
<line x1="153.89" y1="555.3" x2="153.89" y2="551" stroke="#222" stroke-width="1.0" />
<line x1="168.11" y1="230.5" x2="168.11" y2="234.8" stroke="#222" stroke-width="1.0" />
<line x1="168.11" y1="312" x2="168.11" y2="316.3" stroke="#222" stroke-width="1.0" />
<line x1="168.11" y1="555.3" x2="168.11" y2="551" stroke="#222" stroke-width="1.0" />
<line x1="182.33" y1="230.5" x2="182.33" y2="234.8" stroke="#222" stroke-width="1.0" />
<line x1="182.33" y1="312" x2="182.33" y2="316.3" stroke="#222" stroke-width="1.0" />
<line x1="182.33" y1="555.3" x2="182.33" y2="551" stroke="#222" stroke-width="1.0" />
<line x1="196.55" y1="230.5" x2="196.55" y2="238.5" stroke="#222" stroke-width="1.0" />
<line x1="196.55" y1="312" x2="196.55" y2="320" stroke="#222" stroke-width="1.0" />
<line x1="196.55" y1="555.3" x2="196.55" y2="547.3" stroke="#222" stroke-width="1.0" />
<line x1="210.77" y1="230.5" x2="210.77" y2="234.8" stroke="#222" stroke-width="1.0" />
<line x1="210.77" y1="312" x2="210.77" y2="316.3" stroke="#222" stroke-width="1.0" />
<line x1="210.77" y1="555.3" x2="210.77" y2="551" stroke="#222" stroke-width="1.0" />
<line x1="224.99" y1="230.5" x2="224.99" y2="234.8" stroke="#222" stroke-width="1.0" />
<line x1="224.99" y1="312" x2="224.99" y2="316.3" stroke="#222" stroke-width="1.0" />
<line x1="224.99" y1="555.3" x2="224.99" y2="551" stroke="#222" stroke-width="1.0" />
<line x1="239.21" y1="230.5" x2="239.21" y2="234.8" stroke="#222" stroke-width="1.0" />
<line x1="239.21" y1="312" x2="239.21" y2="316.3" stroke="#222" stroke-width="1.0" />
<line x1="239.21" y1="555.3" x2="239.21" y2="551" stroke="#222" stroke-width="1.0" />
<line x1="253.43" y1="230.5" x2="253.43" y2="238.5" stroke="#222" stroke-width="1.0" />
<line x1="253.43" y1="312" x2="253.43" y2="320" stroke="#222" stroke-width="1.0" />
<line x1="253.43" y1="555.3" x2="253.43" y2="547.3" stroke="#222" stroke-width="1.0" />
<line x1="267.64" y1="230.5" x2="267.64" y2="234.8" stroke="#222" stroke-width="1.0" />
<line x1="267.64" y1="312" x2="267.64" y2="316.3" stroke="#222" stroke-width="1.0" />
<line x1="267.64" y1="555.3" x2="267.64" y2="551" stroke="#222" stroke-width="1.0" />
<line x1="40.14" y1="307.7" x2="40.14" y2="312" stroke="#222" stroke-width="1.0" />
<line x1="267.64" y1="307.7" x2="267.64" y2="312" stroke="#222" stroke-width="1.0" />
<line x1="37.25" y1="545.12" x2="41.85" y2="545.12" stroke="#222" stroke-width="1.0" />
<line x1="276.4" y1="545.12" x2="271.8" y2="545.12" stroke="#222" stroke-width="1.0" />
<line x1="355.95" y1="545.12" x2="351.35" y2="545.12" stroke="#222" stroke-width="1.0" />
<line x1="37.25" y1="523.96" x2="41.85" y2="523.96" stroke="#222" stroke-width="1.0" />
<line x1="276.4" y1="523.96" x2="271.8" y2="523.96" stroke="#222" stroke-width="1.0" />
<line x1="355.95" y1="523.96" x2="351.35" y2="523.96" stroke="#222" stroke-width="1.0" />
<line x1="37.25" y1="502.8" x2="45.65" y2="502.8" stroke="#222" stroke-width="1.0" />
<line x1="276.4" y1="502.8" x2="268" y2="502.8" stroke="#222" stroke-width="1.0" />
<line x1="355.95" y1="502.8" x2="347.55" y2="502.8" stroke="#222" stroke-width="1.0" />
<line x1="37.25" y1="481.64" x2="41.85" y2="481.64" stroke="#222" stroke-width="1.0" />
<line x1="276.4" y1="481.64" x2="271.8" y2="481.64" stroke="#222" stroke-width="1.0" />
<line x1="355.95" y1="481.64" x2="351.35" y2="481.64" stroke="#222" stroke-width="1.0" />
<line x1="37.25" y1="460.48" x2="41.85" y2="460.48" stroke="#222" stroke-width="1.0" />
<line x1="276.4" y1="460.48" x2="271.8" y2="460.48" stroke="#222" stroke-width="1.0" />
<line x1="355.95" y1="460.48" x2="351.35" y2="460.48" stroke="#222" stroke-width="1.0" />
<line x1="37.25" y1="439.32" x2="41.85" y2="439.32" stroke="#222" stroke-width="1.0" />
<line x1="276.4" y1="439.32" x2="271.8" y2="439.32" stroke="#222" stroke-width="1.0" />
<line x1="355.95" y1="439.32" x2="351.35" y2="439.32" stroke="#222" stroke-width="1.0" />
<line x1="37.25" y1="418.16" x2="45.65" y2="418.16" stroke="#222" stroke-width="1.0" />
<line x1="276.4" y1="418.16" x2="268" y2="418.16" stroke="#222" stroke-width="1.0" />
<line x1="355.95" y1="418.16" x2="347.55" y2="418.16" stroke="#222" stroke-width="1.0" />
<line x1="37.25" y1="397" x2="41.85" y2="397" stroke="#222" stroke-width="1.0" />
<line x1="276.4" y1="397" x2="271.8" y2="397" stroke="#222" stroke-width="1.0" />
<line x1="355.95" y1="397" x2="351.35" y2="397" stroke="#222" stroke-width="1.0" />
<line x1="37.25" y1="375.84" x2="41.85" y2="375.84" stroke="#222" stroke-width="1.0" />
<line x1="276.4" y1="375.84" x2="271.8" y2="375.84" stroke="#222" stroke-width="1.0" />
<line x1="355.95" y1="375.84" x2="351.35" y2="375.84" stroke="#222" stroke-width="1.0" />
<line x1="37.25" y1="354.68" x2="41.85" y2="354.68" stroke="#222" stroke-width="1.0" />
<line x1="276.4" y1="354.68" x2="271.8" y2="354.68" stroke="#222" stroke-width="1.0" />
<line x1="355.95" y1="354.68" x2="351.35" y2="354.68" stroke="#222" stroke-width="1.0" />
<line x1="37.25" y1="333.52" x2="45.65" y2="333.52" stroke="#222" stroke-width="1.0" />
<line x1="276.4" y1="333.52" x2="268" y2="333.52" stroke="#222" stroke-width="1.0" />
<line x1="355.95" y1="333.52" x2="347.55" y2="333.52" stroke="#222" stroke-width="1.0" />
<line x1="37.25" y1="259.45" x2="45.65" y2="259.45" stroke="#222" stroke-width="1.0" />
<line x1="276.4" y1="259.45" x2="268" y2="259.45" stroke="#222" stroke-width="1.0" />
<line x1="327.8" y1="312" x2="327.8" y2="320" stroke="#222" stroke-width="1.0" />
<line x1="327.8" y1="555.3" x2="327.8" y2="547.3" stroke="#222" stroke-width="1.0" />
<rect x="37.25" y="230.5" width="239.15" height="81.5" fill="none" stroke="#222" stroke-width="1" />
<rect x="37.25" y="312" width="239.15" height="243.3" fill="none" stroke="#222" stroke-width="1" />
<rect x="276.4" y="312.3" width="79.55" height="243" fill="none" stroke="#222" stroke-width="1" />
<line x1="36.75" y1="312" x2="276.9" y2="312" stroke="#111" stroke-width="1.6" />
<line x1="276.4" y1="311.5" x2="276.4" y2="555.8" stroke="#111" stroke-width="1.6" />
<text transform="translate(30.1 255.8) rotate(-90)" font-family='"DejaVu Serif","Liberation Serif",serif' font-size="11.5" text-anchor="end" fill="#000">50</text>
<text transform="translate(30.1 307.9) rotate(-90)" font-family='"DejaVu Serif","Liberation Serif",serif' font-size="11.5" text-anchor="end" fill="#000">0</text>
<text transform="translate(30.1 329.72) rotate(-90)" font-family='"DejaVu Serif","Liberation Serif",serif' font-size="11.5" text-anchor="end" fill="#000">0.8</text>
<text transform="translate(30.1 414.36) rotate(-90)" font-family='"DejaVu Serif","Liberation Serif",serif' font-size="11.5" text-anchor="end" fill="#000">0.4</text>
<text transform="translate(30.1 499) rotate(-90)" font-family='"DejaVu Serif","Liberation Serif",serif' font-size="11.5" text-anchor="end" fill="#000">0.0</text>
<text transform="translate(13.2 433.4) rotate(-90)" font-family='"DejaVu Serif","Liberation Serif",serif' font-size="11.5" text-anchor="middle" fill="#000">(r-i) color</text>
<text transform="translate(10.6 293.6) rotate(-90)" font-family='"DejaVu Serif","Liberation Serif",serif' font-size="11.5" fill="#000">N<tspan font-family='"DejaVu Sans","Liberation Sans",sans-serif' font-size="8" dy="2.4">galaxies</tspan></text>
<text x="82.8" y="570.2" font-family='"DejaVu Serif","Liberation Serif",serif' font-size="11.5" text-anchor="middle" fill="#000">−22.5</text>
<text x="139.68" y="570.2" font-family='"DejaVu Serif","Liberation Serif",serif' font-size="11.5" text-anchor="middle" fill="#000">−20.0</text>
<text x="196.55" y="570.2" font-family='"DejaVu Serif","Liberation Serif",serif' font-size="11.5" text-anchor="middle" fill="#000">−17.5</text>
<text x="253.43" y="570.2" font-family='"DejaVu Serif","Liberation Serif",serif' font-size="11.5" text-anchor="middle" fill="#000">−15.0</text>
<text x="276.7" y="570.2" font-family='"DejaVu Serif","Liberation Serif",serif' font-size="11.5" text-anchor="middle" fill="#000">0</text>
<text x="328.3" y="570.2" font-family='"DejaVu Serif","Liberation Serif",serif' font-size="11.5" text-anchor="middle" fill="#000">50</text>
<text x="85.3" y="586.6" font-family='"DejaVu Serif","Liberation Serif",serif' font-size="11.6" fill="#000">Absolute Magnitude, M<tspan font-family='"DejaVu Sans","Liberation Sans",sans-serif' font-size="8" dy="2.4">r</tspan></text>
<text x="294.6" y="585.6" font-family='"DejaVu Serif","Liberation Serif",serif' font-size="11.5" fill="#000">N<tspan font-family='"DejaVu Sans","Liberation Sans",sans-serif' font-size="8" dy="2.4">galaxies</tspan></text>
<circle cx="283.9" cy="243.4" r="2.5" fill="#dc143c"/>
<text x="299.4" y="246.7" font-family='"DejaVu Serif","Liberation Serif",serif' font-size="11.5" fill="#000">E-S0</text>
<circle cx="283.9" cy="260.45" r="2.5" fill="#3cb371"/>
<text x="299.4" y="263.75" font-family='"DejaVu Serif","Liberation Serif",serif' font-size="11.5" fill="#000">Sa-Sb</text>
<circle cx="283.9" cy="277.5" r="2.5" fill="#1e90ff"/>
<text x="299.4" y="280.8" font-family='"DejaVu Serif","Liberation Serif",serif' font-size="11.5" fill="#000">Sc</text>
<circle cx="283.9" cy="294.55" r="2.5" fill="#ffb6c1"/>
<text x="299.4" y="297.85" font-family='"DejaVu Serif","Liberation Serif",serif' font-size="11.5" fill="#000">Sd-Sm-Irr</text>
</svg>
</body></html>
